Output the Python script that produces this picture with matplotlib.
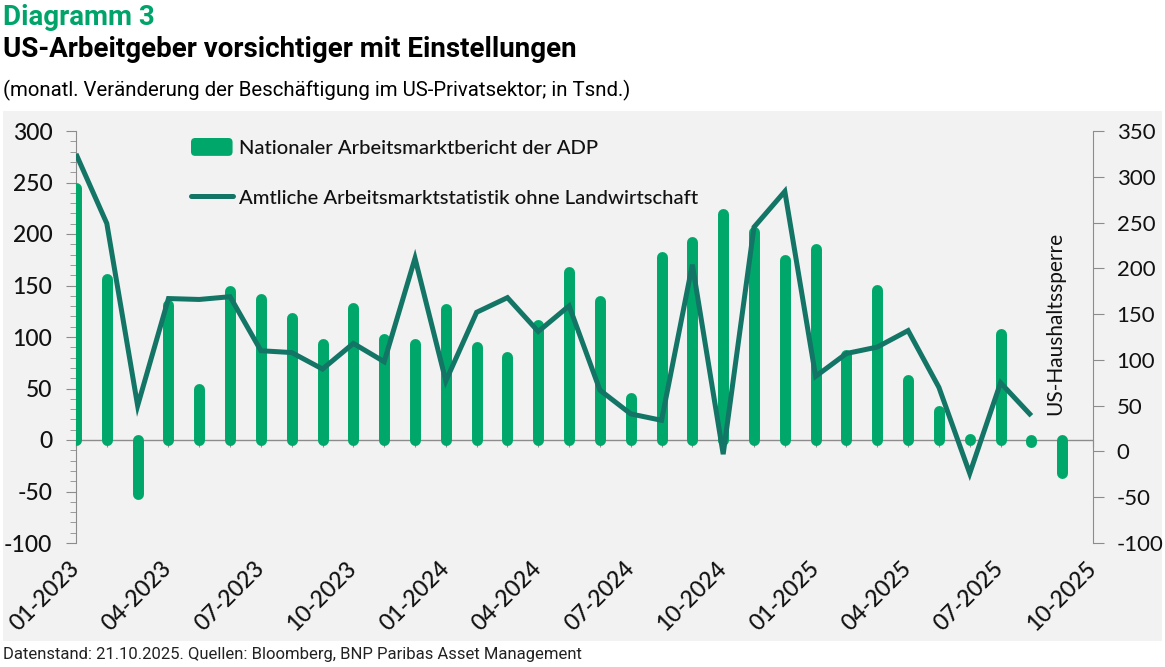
import matplotlib
matplotlib.use("Agg")
import matplotlib.pyplot as plt
from matplotlib.patches import FancyBboxPatch, Rectangle, Patch
from matplotlib.legend_handler import HandlerPatch
from matplotlib.lines import Line2D

plt.rcParams["axes.unicode_minus"] = False

# ---------------- data ----------------
adp_values = [245, 156, -52, 131, 50, 145, 137, 118, 93, 128, 98, 93,
              127, 90, 81, 112, 163, 135, 41, 178, 192, 219, 202, 175,
              185, 83, 146, 58, 28, 1, 103, -2, -32]
nfp_values = [325, 249, 50, 167, 166, 169, 110, 108, 90, 118, 98, 211,
              77, 152, 168, 131, 159, 67, 41, 34, 204, -3, 245, 284,
              82, 107, 114, 132, 70, -24, 75, 39]
tick_labels = ["01-2023", "04-2023", "07-2023", "10-2023", "01-2024", "04-2024",
               "07-2024", "10-2024", "01-2025", "04-2025", "07-2025", "10-2025"]
n_months = 34  # 01-2023 .. 10-2025
series_names = ["Nationaler Arbeitsmarktbericht der ADP",
                "Amtliche Arbeitsmarktstatistik ohne Landwirtschaft"]
annotation = "US-Haushaltssperre"

GREEN = "#00a76b"
TEAL = "#137565"
TITLE_GREEN = "#00a46a"
GRAY = "#8c8c8c"
PANEL = "#f2f2f2"

W, H = 1165, 667
fig = plt.figure(figsize=(W / 100, H / 100), dpi=100)
fig.patch.set_facecolor("white")

def fx(px):
    return px / W

def fy(py):
    return 1 - py / H

panel = Rectangle((fx(3), fy(641)), fx(1162) - fx(3), fy(111) - fy(641),
                  transform=fig.transFigure, facecolor=PANEL,
                  edgecolor="none", zorder=-10)
fig.patches.append(panel)

ax = fig.add_axes([fx(76), fy(543), fx(1093) - fx(76), fy(131) - fy(543)])
ax.set_facecolor("none")
ax2 = ax.twinx()
ax2.set_facecolor("none")

TICKFONT = "Lato"

# bars (rounded ends)
x_bar = list(range(len(adp_values)))
ax.vlines(x_bar, 0, adp_values, colors=GREEN, linewidth=7.9,
          capstyle="round", zorder=3)

# line
x_line = list(range(len(nfp_values)))
ax2.plot(x_line, nfp_values, color=TEAL, lw=3.6, solid_joinstyle="miter",
         solid_capstyle="butt", zorder=4)

ax.set_xlim(0, n_months - 1)
ax.set_ylim(-100, 300)
ax2.set_ylim(-100, 350)

# spines
for s in ["top", "right", "bottom"]:
    ax.spines[s].set_visible(False)
ax.spines["left"].set_color(GRAY)
for s in ["top", "left", "bottom"]:
    ax2.spines[s].set_visible(False)
ax2.spines["right"].set_color(GRAY)

# left y ticks
ax.set_yticks(range(-100, 301, 50))
ax.set_yticks(range(-100, 301, 10), minor=True)
ax.tick_params(axis="y", which="major", length=7, color=GRAY, labelsize=16.5,
               pad=10, labelcolor="#111111")
ax.tick_params(axis="y", which="minor", length=4, color=GRAY)
for lbl in ax.get_yticklabels():
    lbl.set_fontfamily(TICKFONT)
    lbl.set_fontweight("medium")

# right y ticks
ax2.set_yticks(range(-100, 351, 50))
ax2.tick_params(axis="y", which="major", length=8, color=GRAY, labelsize=16,
                pad=9, labelcolor="#111111")
for lbl in ax2.get_yticklabels():
    lbl.set_fontfamily(TICKFONT)

# x labels (quarterly) at bottom
ax.set_xticks(list(range(0, n_months, 3)))
ax.set_xticklabels(tick_labels)
ax.tick_params(axis="x", length=0, pad=16, labelcolor="#111111")
for lbl in ax.get_xticklabels():
    lbl.set_rotation(45)
    lbl.set_ha("right")
    lbl.set_va("center")
    lbl.set_rotation_mode("anchor")
    lbl.set_fontfamily(TICKFONT)
    lbl.set_fontsize(16.5)
    lbl.set_fontweight("medium")

# zero line with monthly ticks
zero_frac = (0 - (-100)) / (300 - (-100))
ax.axhline(0, color=GRAY, lw=1, zorder=2)
sec = ax.secondary_xaxis(zero_frac)
sec.set_xticks(list(range(n_months)))
sec.set_xticklabels([""] * n_months)
sec.tick_params(axis="x", length=5, color=GRAY, direction="out")
sec.spines["bottom"].set_visible(False)

# annotation
ax.text(31.77, 24, annotation, rotation=90, ha="center", va="bottom",
        fontsize=15, family=TICKFONT, color="#111111", zorder=5)

# legend
class HandlerRound(HandlerPatch):
    def create_artists(self, legend, orig_handle, xdescent, ydescent,
                       width, height, fontsize, trans):
        p = FancyBboxPatch((-xdescent, -ydescent), width, height,
                           boxstyle="round,pad=0,rounding_size=3",
                           facecolor=GREEN, edgecolor="none", transform=trans)
        return [p]

h_bar = Patch(facecolor=GREEN)
h_line = Line2D([], [], color=TEAL, lw=3.6, solid_capstyle="round")
leg = ax2.legend([h_bar, h_line], series_names, loc="upper left",
                 bbox_to_anchor=(fx(191), fy(138)), bbox_transform=fig.transFigure,
                 frameon=False,
                 prop={"family": "Lato", "size": 14.6, "weight": "medium"},
                 handlelength=2.05, handleheight=0.98, handletextpad=0.3,
                 labelspacing=1.55, borderpad=0, borderaxespad=0,
                 handler_map={Patch: HandlerRound()})
for t in leg.get_texts():
    t.set_color("#111111")

# titles
TITLE_FONT = ["Roboto"]
fig.text(fx(3), fy(4), "Diagramm 3", ha="left", va="top", fontsize=20,
         weight="bold", color=TITLE_GREEN, family=TITLE_FONT)
fig.text(fx(3), fy(36), "US-Arbeitgeber vorsichtiger mit Einstellungen", ha="left",
         va="top", fontsize=20, weight="bold", color="#000000", family=TITLE_FONT)
fig.text(fx(3), fy(80), "(monatl. Veränderung der Beschäftigung im US-Privatsektor; in Tsnd.)",
         ha="left", va="top", fontsize=14.7, color="#000000", family=TITLE_FONT)
fig.text(fx(3), fy(647), "Datenstand: 21.10.2025. Quellen: Bloomberg, BNP Paribas Asset Management",
         ha="left", va="top", fontsize=12, color="#222222", family=TITLE_FONT)

fig.savefig("out.png", dpi=100)
